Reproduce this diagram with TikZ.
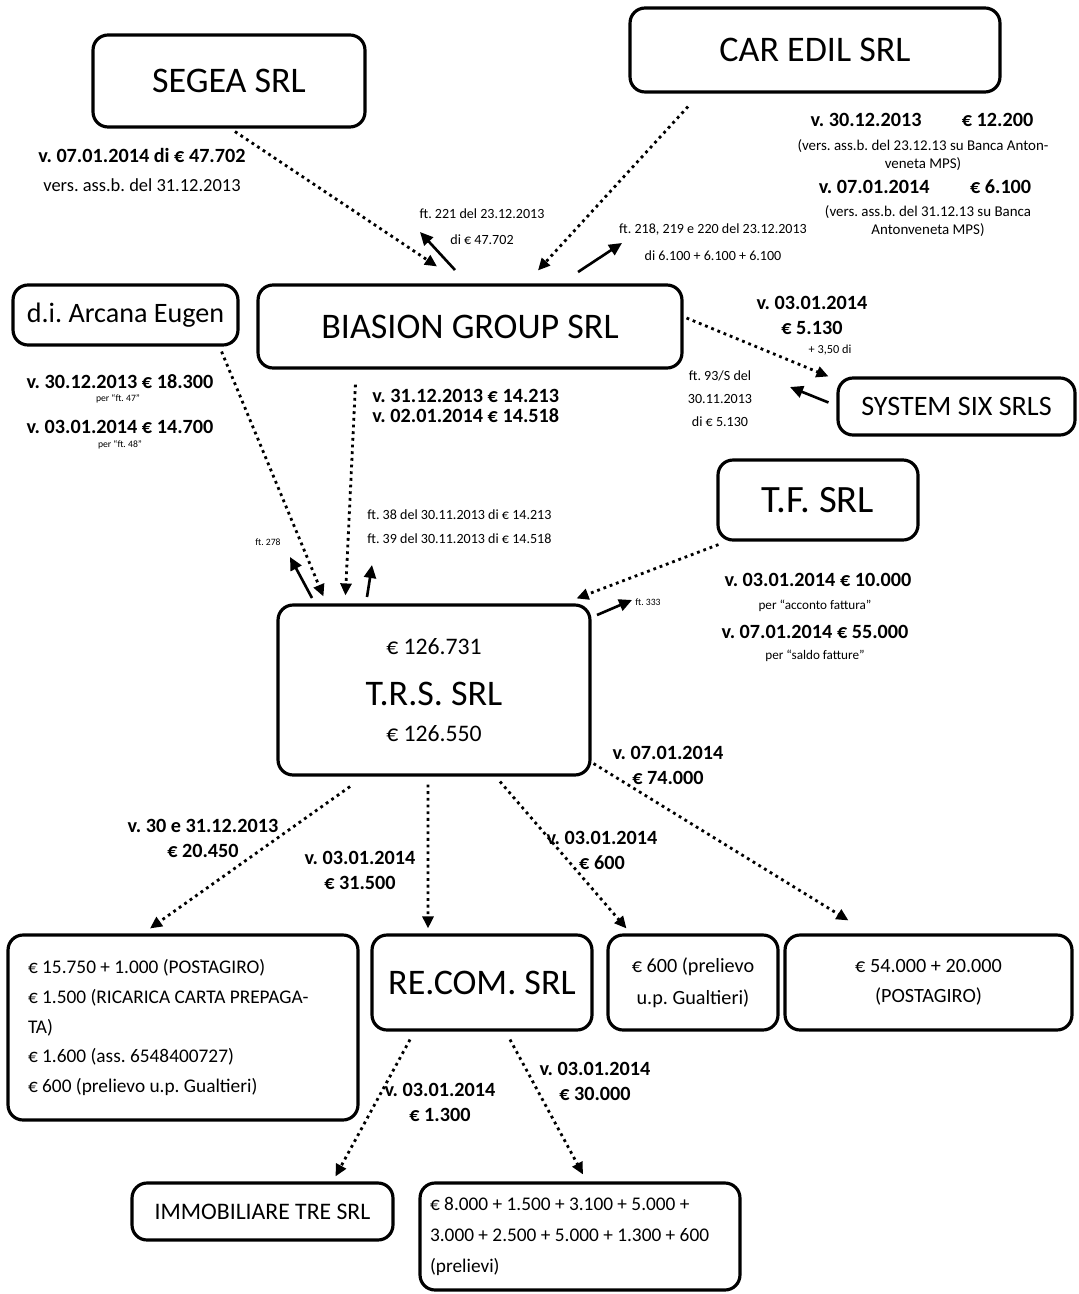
\documentclass[tikz,border=0pt]{standalone}
\usepackage{fontspec}
\setmainfont{Carlito}
\usepackage{tikz}
\usetikzlibrary{arrows.meta}
\frenchspacing
\tikzset{
  companybox/.style={
    draw=black,
    line width=1.8pt,
    rounded corners=3mm,
    inner sep=0pt,
    align=center,
    font=\fontsize{20.5}{24}\selectfont
  },
  paymentarrow/.style={
    -{Triangle[length=2.4mm,width=2.2mm]},
    line width=1.6pt,
    dash pattern=on 1.6pt off 2.2pt
  },
  invoicearrow/.style={
    -{Triangle[length=2.6mm,width=2.4mm]},
    line width=1.5pt
  },
  paylabel/.style={
    inner sep=0pt,
    align=center,
    font=\bfseries\fontsize{11.5}{14.2}\selectfont
  },
  notelabel/.style={
    inner sep=0pt,
    align=center,
    font=\fontsize{8}{15}\selectfont
  },
  tinylabel/.style={
    inner sep=0pt,
    font=\fontsize{5.5}{7}\selectfont
  }
}

\begin{document}
\begin{tikzpicture}[x=0.02cm,y=-0.02cm]
\useasboundingbox (0,0) rectangle (1078,1294);

% companies
\node[companybox, minimum width=5.44cm, minimum height=1.84cm] (segea) at (229,81) {SEGEA SRL};
\node[companybox, minimum width=7.4cm, minimum height=1.68cm] (caredil) at (815,50) {CAR EDIL SRL};
\node[companybox, minimum width=4.5cm, minimum height=1.2cm, font=\fontsize{16}{19}\selectfont] (arcana) at (125.5,315) {d.i. Arcana Eugen};
\node[companybox, minimum width=8.48cm, minimum height=1.66cm] (biasion) at (470,326.5) {BIASION GROUP SRL};
\node[companybox, minimum width=4.74cm, minimum height=1.14cm, font=\fontsize{16}{19}\selectfont] (systemsix) at (956.5,406.5) {SYSTEM SIX SRLS};
\node[companybox, minimum width=4.0cm, minimum height=1.6cm, font=\fontsize{22}{26}\selectfont] (tf) at (818,500) {T.F. SRL};
\node[companybox, minimum width=6.24cm, minimum height=3.4cm, font=\fontsize{13.5}{20.4}\selectfont] (trs) at (434,690)
  {€ 126.731\\[9pt]{\fontsize{20.5}{24}\selectfont T.R.S. SRL}\\€ 126.550};

% where the money went
\node[companybox, minimum width=7.0cm, minimum height=3.7cm, text width=6.2cm, align=flush left,
  inner xsep=0.4cm, font=\fontsize{11}{17}\selectfont] (spese) at (183,1027.5)
  {€ 15.750 + 1.000 (POSTAGIRO)\\€ 1.500 (RICARICA CARTA PREPAGA-\\TA)\\€ 1.600 (ass. 6548400727)\\€ 600 (prelievo u.p. Gualtieri)};
\node[companybox, minimum width=4.4cm, minimum height=1.9cm] (recom) at (482,982.5) {RE.COM. SRL};
\node[companybox, minimum width=3.4cm, minimum height=1.9cm, font=\fontsize{11.5}{18}\selectfont] (prelievo) at (693,982.5)
  {€ 600 (prelievo\\u.p. Gualtieri)};
\node[companybox, minimum width=5.74cm, minimum height=1.9cm, font=\fontsize{11.5}{17}\selectfont] (postagiro) at (928.5,982.5)
  {€ 54.000 + 20.000\\(POSTAGIRO)};
\node[companybox, minimum width=5.22cm, minimum height=1.14cm, font=\fontsize{13.5}{16}\selectfont] (immobiliare) at (262.5,1211.5)
  {IMMOBILIARE TRE SRL};
\node[companybox, minimum width=6.4cm, minimum height=2.14cm, text width=6.0cm, align=flush left,
  inner xsep=0.2cm, font=\fontsize{11}{17.5}\selectfont] (prelievi) at (580,1236.5)
  {€ 8.000 + 1.500 + 3.100 + 5.000 +\\3.000 + 2.500 + 5.000 + 1.300 + 600\\(prelievi)};

% payments
\draw[paymentarrow] ([xshift=0.12cm,yshift=-0.06cm]segea.south) -- ([xshift=-0.66cm,yshift=0.34cm]biasion.north);
\draw[paymentarrow] ([xshift=-2.54cm,yshift=-0.26cm]caredil.south) -- ([xshift=1.36cm,yshift=0.26cm]biasion.north);
\draw[paymentarrow] ([xshift=0.06cm,yshift=0.17cm]biasion.east) -- ([xshift=-0.16cm]systemsix.north west);
\draw[paymentarrow] ([xshift=-0.36cm,yshift=-0.1cm]arcana.south east) -- ([xshift=0.94cm,yshift=0.14cm]trs.north west);
\draw[paymentarrow] ([xshift=1.98cm,yshift=-0.3cm]biasion.south west) -- ([xshift=1.38cm,yshift=0.16cm]trs.north west);
\draw[paymentarrow] ([xshift=0.04cm,yshift=-0.06cm]tf.south west) -- ([xshift=-0.3cm,yshift=0.1cm]trs.north east);
\draw[paymentarrow] ([xshift=-1.68cm,yshift=-0.2cm]trs.south) -- ([xshift=-0.66cm,yshift=0.1cm]spese.north);
\draw[paymentarrow] ([xshift=-0.12cm,yshift=-0.16cm]trs.south) -- ([xshift=-1.08cm,yshift=0.1cm]recom.north);
\draw[paymentarrow] ([xshift=1.32cm,yshift=-0.1cm]trs.south) -- ([xshift=0.4cm,yshift=0.1cm]prelievo.north west);
\draw[paymentarrow] ([xshift=0.04cm,yshift=0.26cm]trs.south east) -- ([xshift=1.3cm,yshift=0.26cm]postagiro.north west);
\draw[paymentarrow] ([xshift=-1.44cm,yshift=-0.16cm]recom.south) -- ([xshift=1.46cm,yshift=0.1cm]immobiliare.north);
\draw[paymentarrow] ([xshift=0.56cm,yshift=-0.16cm]recom.south) -- ([xshift=0.06cm,yshift=0.14cm]prelievi.north);

% invoices going back
\coordinate (ft221from) at (455,270);
\coordinate (ft221to) at (420,232);
\coordinate (ft218from) at (578,272);
\coordinate (ft218to) at (622,243);
\coordinate (ft93to) at (790,387);
\coordinate (ft27from) at (312,598);
\coordinate (ft27to) at (290,557);
\coordinate (ft38from) at (367,597);
\coordinate (ft38to) at (372,565);
\coordinate (ft33from) at (597,615);
\coordinate (ft33to) at (632,600);
\draw[invoicearrow] (ft221from) -- (ft221to);
\draw[invoicearrow] (ft218from) -- (ft218to);
\draw[invoicearrow] ([xshift=-0.16cm,yshift=0.08cm]systemsix.west) -- (ft93to);
\draw[invoicearrow] (ft27from) -- (ft27to);
\draw[invoicearrow] (ft38from) -- (ft38to);
\draw[invoicearrow] (ft33from) -- (ft33to);

% labels
\node[paylabel] (segeapay) at (142,155) {v. 07.01.2014 di € 47.702};
\node[inner sep=0pt, font=\fontsize{10.5}{12}\selectfont] (segeanote) at (142,185) {vers. ass.b. del 31.12.2013};
\node[notelabel] (ft221) at (482,226.5) {ft. 221 del 23.12.2013\\di € 47.702};
\node[paylabel] (carpay1) at (922,120) {v. 30.12.2013\qquad € 12.200};
\node[notelabel, font=\fontsize{8.5}{10.2}\selectfont] (carnote1) at (923,155) {(vers. ass.b. del 23.12.13 su Banca Anton-\\veneta MPS)};
\node[paylabel] (carpay2) at (925,187) {v. 07.01.2014\qquad € 6.100};
\node[notelabel, font=\fontsize{8.5}{10.2}\selectfont] (carnote2) at (928,221) {(vers. ass.b. del 31.12.13 su Banca\\Antonveneta MPS)};
\node[notelabel] (ft218) at (713,242) {ft. 218, 219 e 220 del 23.12.2013\\di 6.100 + 6.100 + 6.100};
\node[paylabel] (sixpay) at (812,315.5) {v. 03.01.2014\\€ 5.130};
\node[tinylabel, font=\fontsize{7}{8}\selectfont] (sixextra) at (830,350) {+ 3,50 di};
\node[notelabel, font=\fontsize{8}{13}\selectfont] (ft93) at (720,399) {ft. 93/S del\\30.11.2013\\di € 5.130};
\node[paylabel] (arcanapay1) at (120,382) {v. 30.12.2013 € 18.300};
\node[tinylabel] (arcananote1) at (118,399) {per ``ft. 47''};
\node[paylabel] (arcanapay2) at (120,427) {v. 03.01.2014 € 14.700};
\node[tinylabel] (arcananote2) at (120,445) {per ``ft. 48''};
\node[paylabel, align=left, anchor=west, font=\bfseries\fontsize{11.5}{11.4}\selectfont] (biasionpay) at (372,406)
  {v. 31.12.2013 € 14.213\\v. 02.01.2014 € 14.518};
\node[notelabel, align=left, anchor=west, font=\fontsize{8}{13.6}\selectfont] (ft38) at (367,527)
  {ft. 38 del 30.11.2013 di € 14.213\\ft. 39 del 30.11.2013 di € 14.518};
\node[tinylabel] (ft27) at (268,542) {ft. 278};
\node[paylabel] (tfpay1) at (818,580) {v. 03.01.2014 € 10.000};
\node[notelabel, font=\fontsize{7.5}{9}\selectfont] (tfnote1) at (815,606) {per ``acconto fattura''};
\node[paylabel] (tfpay2) at (815,632) {v. 07.01.2014 € 55.000};
\node[notelabel, font=\fontsize{7.5}{9}\selectfont] (tfnote2) at (815,656) {per ``saldo fatture''};
\node[tinylabel, anchor=west] (ft33) at (635,602) {ft. 333};
\node[paylabel] (spesepay) at (203,838.5) {v. 30 e 31.12.2013\\€ 20.450};
\node[paylabel] (recompay) at (360,870) {v. 03.01.2014\\€ 31.500};
\node[paylabel] (prelievopay) at (602,850) {v. 03.01.2014\\€ 600};
\node[paylabel] (postagiropay) at (668,765) {v. 07.01.2014\\€ 74.000};
\node[paylabel] (immobiliarepay) at (440,1102.5) {v. 03.01.2014\\€ 1.300};
\node[paylabel] (prelievipay) at (595,1081) {v. 03.01.2014\\€ 30.000};
\end{tikzpicture}
\end{document}
